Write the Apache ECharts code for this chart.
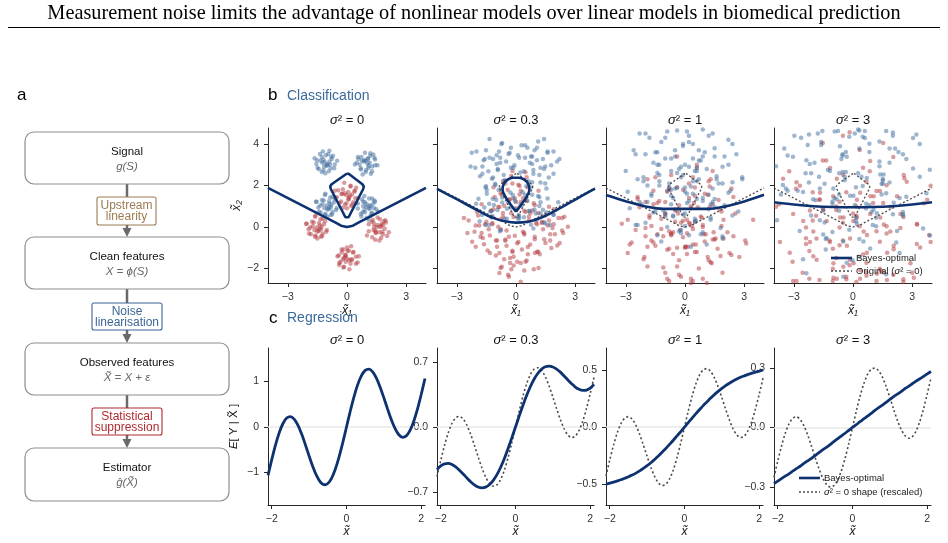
<!DOCTYPE html>
<html>
<head>
<meta charset="utf-8">
<script src="https://cdn.jsdelivr.net/npm/echarts@6/dist/echarts.min.js"></script>
<style>
html, body { margin: 0; padding: 0; background: #fff; }
#chart { width: 948px; height: 543px; }
</style>
</head>
<body>
<div id="chart"></div>
<script>
(function () {
    'use strict';

    var FONT = '"Liberation Sans", Arial, sans-serif';

    // ---- data ----
    var noiseLabels = ['0', '0.3', '1', '3'];
    var clsTicksX = [-3, 0, 3];
    var clsTicksY = [-2, 0, 2, 4];
    var regTicksX = [-2, 0, 2];
    var regTicksY = [[-1, 0, 1], [-0.7, 0, 0.7], [-0.5, 0, 0.5], [-0.3, 0, 0.3]];

    // classification samples, sigma^2 = 0
    var blue0 = [[-1.04,2.95],[-1.34,3.19],[-0.77,3.28],[-1.19,2.74],[-0.95,3.52],[-1.55,3.04],[-0.83,2.83],[-1.13,3.13],[-0.62,3.01],[-1.28,3.37],[-1.01,3.04],[-1.43,2.8],[-0.89,3.16],[-1.22,3.64],[-0.71,3.43],[-1.64,3.31],[-1.1,2.59],[-0.92,2.68],
        [0.85,3.16],[1.09,2.86],[1.18,3.43],[0.64,3.01],[1.42,3.25],[0.94,2.65],[0.73,3.37],[1.03,3.07],[0.91,3.58],[1.27,2.92],[0.94,3.19],[0.7,2.77],[1.06,3.31],[1.54,2.98],[1.33,3.49],[1.21,2.56],[0.49,3.1],[0.58,3.28],
        [-0.94,0.85],[-1.24,1.09],[-0.67,1.18],[-1.09,0.64],[-0.85,1.42],[-1.45,0.94],[-0.73,0.73],[-1.03,1.03],[-0.52,0.91],[-1.18,1.27],[-0.91,0.94],[-1.33,0.7],[-0.79,1.06],[-1.12,1.54],[-0.61,1.33],[-1.54,1.21],[-1.0,0.49],[-0.82,0.58],
        [1.15,0.89],[0.91,1.19],[1.33,1.13],[0.79,0.71],[1.27,1.37],[0.55,0.89],[1.24,0.68],[0.97,0.98],[1.48,0.86],[0.82,1.22],[1.09,0.89],[0.7,0.62],[1.21,1.01],[0.88,1.49],[1.39,1.28],[0.46,1.16],[1.0,0.44],[1.18,0.53],
        [-1.19,3.25],[-0.86,3.01],[-1.49,2.86],[-1.07,3.46],[-0.8,3.37],[-1.28,2.65],[-0.65,2.83],[-1.52,3.22],[-0.98,2.98],[-1.16,2.92],[-0.89,3.67],[-1.37,3.52],[-0.5,3.19],[-1.25,3.1],
        [1.09,2.95],[0.76,3.19],[1.39,3.34],[0.97,2.74],[0.7,2.83],[1.18,3.55],[0.55,3.37],[1.42,2.98],[0.88,3.22],[1.06,3.28],[0.79,2.53],[1.27,2.68],[0.4,3.01],[1.15,3.1],
        [-1.15,0.91],[-0.91,1.24],[-0.76,0.61],[-1.36,1.03],[-1.27,1.3],[-0.55,0.82],[-0.73,1.45],[-1.12,0.58],[-0.88,1.12],[-0.82,0.94],[-1.57,1.21],[-1.42,0.73],[-1.09,1.6],[-1.0,0.85],
        [1.15,1.04],[0.91,0.71],[0.76,1.34],[1.36,0.92],[1.27,0.65],[0.55,1.13],[0.73,0.5],[1.12,1.37],[0.88,0.83],[0.82,1.01],[1.57,0.74],[1.42,1.22],[1.09,0.35],[1.0,1.1]];
    var red0 = [[0.07,1.33],[-0.28,1.6],[0.38,1.71],[-0.1,1.08],[0.18,1.99],[-0.52,1.43],[0.32,1.19],[-0.04,1.54],[0.56,1.4],[-0.21,1.82],[0.1,1.43],[-0.38,1.15],[0.25,1.57],[-0.14,2.13],[0.46,1.89],[-0.63,1.75],[0.0,0.9],[0.21,1.01],
        [-1.44,-0.2],[-1.74,0.04],[-1.17,0.13],[-1.59,-0.41],[-1.35,0.37],[-1.95,-0.11],[-1.23,-0.32],[-1.53,-0.02],[-1.02,-0.14],[-1.68,0.22],[-1.41,-0.11],[-1.83,-0.35],[-1.29,0.01],[-1.62,0.49],[-1.11,0.28],[-2.04,0.16],[-1.5,-0.56],[-1.32,-0.47],
        [1.7,0.01],[1.46,-0.29],[1.88,0.28],[1.34,-0.14],[1.82,0.1],[1.1,-0.2],[1.79,-0.23],[1.52,0.0],[2.03,-0.44],[1.37,0.17],[1.64,-0.26],[1.25,0.25],[1.76,0.16],[1.43,-0.62],[1.94,0.32],[1.01,-0.41],[1.55,0.46],[1.73,-0.52],
        [-0.06,-1.35],[0.24,-1.59],[-0.33,-1.68],[0.09,-1.14],[-0.15,-1.92],[0.45,-1.44],[-0.27,-1.23],[0.03,-1.53],[-0.48,-1.41],[0.18,-1.77],[-0.09,-1.44],[0.33,-1.2],[-0.21,-1.56],[0.12,-2.04],[-0.39,-1.83],[0.54,-1.71],[0.0,-0.99],[-0.18,-1.08],
        [0.09,1.35],[-0.24,1.59],[0.39,1.74],[-0.03,1.14],[-0.3,1.23],[0.18,1.95],[-0.45,1.77],[0.42,1.38],[-0.12,1.62],[0.06,1.68],[-0.21,0.93],[0.27,1.08],[-0.6,1.41],[0.15,1.5],
        [-1.65,-0.14],[-1.41,0.19],[-1.26,-0.44],[-1.86,-0.02],[-1.77,0.25],[-1.05,-0.23],[-1.23,0.4],[-1.62,-0.47],[-1.38,0.07],[-1.32,-0.11],[-2.07,0.16],[-1.92,-0.32],[-1.59,0.55],[-1.5,-0.2],
        [1.7,0.04],[1.46,-0.25],[1.31,0.34],[1.91,-0.08],[1.82,-0.35],[1.1,0.13],[1.28,-0.5],[1.67,0.37],[1.43,-0.17],[1.37,0.01],[2.12,-0.26],[1.97,0.22],[1.64,-0.65],[1.55,0.1],
        [-0.09,-1.35],[0.24,-1.55],[-0.39,-1.74],[0.03,-1.14],[0.3,-1.23],[-0.18,-1.95],[0.45,-1.77],[-0.42,-1.38],[0.12,-1.62],[-0.06,-1.68],[0.21,-0.93],[-0.27,-1.08],[0.6,-1.41],[-0.15,-1.5]];

    // sigma^2 = 0.3
    var blue03 = [[-0.92,2.74],[-1.64,3.22],[-0.38,3.52],[-1.22,2.32],[-0.74,4.0],[-2.06,2.86],[-0.62,2.5],[-1.16,3.28],[-0.08,2.98],[-1.52,3.7],[-0.98,3.04],[-1.82,2.44],[-0.8,3.34],[-1.34,4.24],[-0.26,3.82],[-2.24,3.58],[-1.04,2.02],[-0.56,2.2],[-1.7,2.92],[-0.86,3.64],[-1.4,2.68],[-0.5,3.16],
        [1.36,3.28],[0.88,2.56],[0.58,3.82],[1.78,2.98],[0.1,3.46],[1.24,2.14],[1.6,3.58],[0.82,3.04],[1.12,4.12],[0.4,2.68],[1.06,3.22],[1.66,2.38],[0.76,3.4],[-0.14,2.86],[0.28,3.94],[0.52,1.96],[2.08,3.16],[1.9,3.64],[1.18,2.5],[0.46,3.34],[1.42,2.8],[0.94,3.7],
        [-1.18,1.36],[-0.46,0.88],[-1.72,0.58],[-0.88,1.78],[-1.36,0.1],[-0.04,1.24],[-1.48,1.6],[-0.94,0.82],[-2.02,1.12],[-0.58,0.4],[-1.12,1.06],[-0.28,1.66],[-1.3,0.76],[-0.76,-0.14],[-1.84,0.28],[0.14,0.52],[-1.06,2.08],[-1.54,1.9],[-0.4,1.18],[-1.24,0.46],[-0.7,1.42],[-1.6,0.94],
        [0.64,0.77],[1.12,1.49],[1.42,0.23],[0.22,1.07],[1.9,0.59],[0.76,1.91],[0.4,0.47],[1.18,1.01],[0.88,-0.07],[1.6,1.37],[0.94,0.83],[0.34,1.67],[1.24,0.65],[2.14,1.19],[1.72,0.11],[1.48,2.09],[-0.08,0.89],[0.1,0.41],[0.82,1.55],[1.54,0.71],[0.58,1.25],[1.06,0.35],
        [-0.92,2.8],[-1.58,3.28],[-0.32,3.58],[-1.16,2.38],[-1.7,2.56],[-0.7,4.05],[-2.0,3.64],[-0.26,2.86],[-1.34,3.34],[-0.98,3.46],[-1.52,1.96],[-0.56,2.26],[-2.3,2.92],[-0.8,3.1],
        [0.82,3.4],[1.48,2.92],[0.22,2.62],[1.06,3.82],[1.6,3.64],[0.64,2.2],[1.9,2.56],[0.16,3.34],[1.24,2.86],[0.88,2.74],[1.42,4.24],[0.46,3.94],[2.2,3.28],[0.7,3.1],
        [-0.7,1.18],[-1.18,0.52],[-1.48,1.78],[-0.28,0.94],[-0.46,0.4],[-1.9,1.36],[-1.54,0.1],[-0.76,1.84],[-1.24,0.76],[-1.36,1.12],[0.14,0.58],[-0.16,1.54],[-0.82,-0.2],[-1.0,1.3],
        [0.7,0.77],[1.18,1.43],[1.48,0.17],[0.28,1.01],[0.46,1.55],[1.9,0.59],[1.54,1.85],[0.76,0.11],[1.24,1.19],[1.36,0.83],[-0.14,1.37],[0.16,0.41],[0.82,2.15],[1.0,0.65]];
    var red03 = [[-0.36,1.32],[0.12,2.04],[0.42,0.78],[-0.78,1.62],[0.9,1.14],[-0.24,2.46],[-0.6,1.02],[0.18,1.56],[-0.12,0.48],[0.6,1.92],[-0.06,1.38],[-0.66,2.22],[0.24,1.2],[1.14,1.74],[0.72,0.66],[0.48,2.64],[-1.08,1.44],[-0.9,0.96],[-0.18,2.1],[0.54,1.26],[-0.42,1.8],[0.06,0.9],
        [-1.32,-0.41],[-2.04,0.07],[-0.78,0.37],[-1.62,-0.83],[-1.14,0.85],[-2.46,-0.29],[-1.02,-0.65],[-1.56,0.13],[-0.48,-0.17],[-1.92,0.55],[-1.38,-0.11],[-2.22,-0.71],[-1.2,0.19],[-1.74,1.09],[-0.66,0.67],[-2.64,0.43],[-1.44,-1.13],[-0.96,-0.95],[-2.1,-0.23],[-1.26,0.49],[-1.8,-0.47],[-0.9,0.01],
        [1.91,0.13],[1.43,-0.59],[1.13,0.67],[2.33,-0.17],[0.65,0.31],[1.79,-1.01],[2.15,0.43],[1.37,-0.11],[1.67,0.97],[0.95,-0.47],[1.61,0.07],[2.21,-0.77],[1.31,0.25],[0.41,-0.29],[0.83,0.79],[1.07,-1.19],[2.63,0.01],[2.45,0.49],[1.73,-0.65],[1.01,0.19],[1.97,-0.35],[1.49,0.55],
        [-0.18,-1.14],[0.54,-1.62],[-0.72,-1.92],[0.12,-0.72],[-0.36,-2.4],[0.96,-1.26],[-0.48,-0.9],[0.06,-1.68],[-1.02,-1.38],[0.42,-2.1],[-0.12,-1.44],[0.72,-0.84],[-0.3,-1.74],[0.24,-2.64],[-0.84,-2.22],[1.14,-1.98],[-0.06,-0.42],[-0.54,-0.6],[0.6,-1.32],[-0.24,-2.04],[0.3,-1.08],[-0.6,-1.56],
        [-0.3,1.32],[0.18,1.98],[0.48,0.72],[-0.72,1.56],[-0.54,2.1],[0.95,1.05],[0.54,2.4],[-0.24,0.66],[0.24,1.74],[0.36,1.38],[-1.14,1.92],[-0.84,0.96],[-0.18,2.7],[0,1.2],
        [-1.2,0.13],[-1.68,-0.53],[-1.98,0.73],[-0.78,-0.11],[-0.96,-0.65],[-2.4,0.31],[-2.04,-0.95],[-1.26,0.79],[-1.74,-0.29],[-1.86,0.07],[-0.36,-0.47],[-0.66,0.49],[-1.32,-1.25],[-1.5,0.25],
        [1.73,-0.35],[1.07,0.13],[2.33,0.43],[1.49,-0.77],[0.95,-0.59],[1.91,0.85],[0.65,0.49],[2.39,-0.29],[1.31,0.19],[1.67,0.31],[1.13,-1.19],[2.09,-0.89],[0.35,-0.23],[1.85,-0.05],
        [-0.18,-1.2],[0.48,-1.68],[-0.78,-1.98],[0.06,-0.78],[0.6,-0.96],[-0.4,-2.3],[0.9,-2.04],[-0.84,-1.26],[0.24,-1.74],[-0.12,-1.86],[0.42,-0.36],[-0.54,-0.66],[1.2,-1.32],[-0.3,-1.5]];

    // sigma^2 = 1
    var blue1 = [[-0.5,3.4],[-1.3,2.2],[-1.8,4.3],[0.2,2.9],[-2.6,3.7],[-0.7,1.5],[-0.1,3.9],[-1.4,3.0],[-0.9,4.6],[-2.1,2.4],[-1.0,3.3],[0.0,1.9],[-1.5,3.6],[-3.0,2.7],[-2.3,4.5],[-1.9,1.2],[0.7,3.2],[0.4,4.0],[-0.8,2.1],[-2.0,3.5],[-0.4,2.6],[-1.2,4.1],
        [0.7,3.7],[1.9,2.9],[-0.2,2.4],[1.2,4.4],[0.4,1.6],[2.6,3.5],[0.2,4.1],[1.1,2.8],[-0.7,3.3],[1.7,2.1],[0.8,3.2],[2.2,4.2],[0.5,2.7],[1.4,1.2],[-0.4,1.9],[2.9,2.3],[0.9,4.7],[0.1,4.6],[2.0,3.4],[0.6,2.2],[1.5,3.8],[0.0,3.0],
        [-1.6,0.7],[-0.8,1.9],[-0.3,-0.2],[-2.3,1.2],[0.5,0.4],[-1.4,2.6],[-2.0,0.2],[-0.7,1.1],[-1.2,-0.7],[0.0,1.7],[-1.1,0.8],[-2.1,2.2],[-0.6,0.5],[0.9,1.4],[0.2,-0.4],[-0.2,2.9],[-2.8,0.9],[-2.5,0.1],[-1.3,2.0],[-0.1,0.6],[-1.7,1.5],[-0.9,0.0],
        [1.3,0.35],[0.1,1.15],[2.2,1.65],[0.8,-0.35],[1.6,2.45],[-0.6,0.55],[1.8,-0.05],[0.9,1.25],[2.7,0.75],[0.3,1.95],[1.2,0.85],[-0.2,-0.15],[1.5,1.35],[0.6,2.85],[2.4,2.15],[-0.9,1.75],[1.1,-0.85],[1.9,-0.55],[0.0,0.65],[1.4,1.85],[0.5,0.25],[2.0,1.05],
        [-1.4,3.6],[-0.3,2.8],[-2.4,2.3],[-1.0,4.3],[-0.1,4.0],[-1.7,1.6],[0.4,2.2],[-2.5,3.5],[-0.7,2.7],[-1.3,2.5],[-0.4,4.65],[-2.0,4.5],[0.9,3.4],[-1.6,3.1],
        [1.5,3.4],[0.7,2.3],[0.2,4.4],[2.2,3.0],[1.9,2.1],[-0.5,3.7],[0.1,1.6],[1.4,4.5],[0.6,2.7],[0.4,3.3],[2.9,2.4],[2.4,4.0],[1.3,1.1],[1.0,3.6],
        [-1.5,0.75],[-0.7,1.8],[-0.2,-0.3],[-2.2,1.1],[-1.9,2.0],[0.55,0.3],[-0.1,2.5],[-1.4,-0.4],[-0.6,1.4],[-0.4,0.8],[-2.9,1.7],[-2.4,0.1],[-1.3,3.0],[-1.0,0.5],
        [1.3,0.45],[0.2,1.25],[2.3,1.75],[0.9,-0.25],[0.0,0.05],[1.6,2.3],[-0.5,1.85],[2.4,0.55],[0.6,1.35],[1.2,1.55],[0.3,-0.95],[1.9,-0.45],[-1.0,0.65],[1.5,0.95]];
    var red1 = [[0.3,0.9],[-0.9,1.7],[1.2,2.2],[-0.2,0.2],[0.6,3.0],[-1.6,1.1],[0.8,0.5],[-0.1,1.8],[1.7,1.3],[-0.7,2.5],[0.2,1.4],[-1.2,0.4],[0.5,1.9],[-0.4,3.4],[1.4,2.7],[-1.9,2.3],[0.1,-0.3],[0.9,0.0],[-1.0,1.2],[0.4,2.4],[-0.5,0.8],[1.0,1.6],
        [-1.8,0.55],[-0.6,-0.25],[-2.7,-0.75],[-1.3,1.25],[-2.1,-1.55],[0.1,0.35],[-2.3,0.95],[-1.4,-0.35],[-3.2,0.15],[-0.8,-1.05],[-1.7,0.05],[-0.3,1.05],[-2.0,-0.45],[-1.1,-1.95],[-2.9,-1.25],[0.4,-0.85],[-1.6,1.75],[-2.4,1.45],[-0.5,0.25],[-1.9,-0.95],[-1.0,0.65],[-2.5,-0.15],
        [0.95,-0.35],[1.75,0.85],[2.25,-1.25],[0.25,0.15],[3.05,-0.65],[1.15,1.55],[0.55,-0.85],[1.85,0.05],[1.35,-1.75],[2.55,0.65],[1.45,-0.25],[0.45,1.15],[1.95,-0.55],[3.45,0.35],[2.75,-1.45],[2.35,1.85],[-0.25,-0.15],[0.05,-0.95],[1.25,0.95],[2.45,-0.45],[0.85,0.45],[1.65,-1.05],
        [0.6,-1.2],[-0.2,-2.4],[-0.7,-0.3],[1.3,-1.7],[-1.5,-0.9],[0.4,-2.6],[1.0,-0.7],[-0.3,-1.6],[0.2,0.2],[-1.0,-2.2],[0.1,-1.3],[1.1,-2.7],[-0.4,-1.0],[-1.9,-1.9],[-1.2,-0.1],[-0.8,-2.6],[1.8,-1.4],[1.5,-0.6],[0.3,-2.5],[-0.9,-1.1],[0.7,-2.0],[-0.1,-0.5],
        [0.3,1.0],[-0.8,1.8],[1.3,2.3],[-0.1,0.3],[-1.0,0.6],[0.6,2.85],[-1.5,2.4],[1.4,1.1],[-0.4,1.9],[0.2,2.1],[-0.7,-0.4],[0.9,0.1],[-2.0,1.2],[0.5,1.5],
        [-1.8,0.45],[-0.7,-0.35],[-2.8,-0.85],[-1.4,1.15],[-0.5,0.85],[-2.05,-1.45],[0.0,-0.95],[-2.9,0.35],[-1.1,-0.45],[-1.7,-0.65],[-0.8,1.85],[-2.4,1.35],[0.5,0.25],[-2.0,-0.05],
        [1.05,-0.35],[1.85,0.75],[2.35,-1.35],[0.35,0.05],[0.65,0.95],[3.1,-0.8],[2.45,1.45],[1.15,-1.45],[1.95,0.35],[2.15,-0.25],[-0.35,0.65],[0.15,-0.95],[1.25,1.95],[1.55,-0.55],
        [0.5,-1.2],[-0.3,-2.3],[-0.8,-0.2],[1.2,-1.6],[0.9,-2.5],[-1.6,-0.75],[-0.9,-2.5],[0.4,-0.1],[-0.4,-1.9],[-0.6,-1.3],[1.9,-2.2],[1.4,-0.6],[0.3,-2.7],[0,-1.0]];

    // sigma^2 = 3
    var blue3 = [[-2.12,2.59],[-0.76,4.63],[0.09,1.06],[-3.31,3.44],[1.45,2.08],[-1.78,4.5],[-2.8,1.74],[-0.59,3.27],[-1.44,0.21],[0.6,4.29],[-1.27,2.76],[-2.97,4.4],[-0.42,2.25],[2.13,3.78],[0.94,0.72],[0.26,4.7],[-3.9,2.93],[-3.65,1.57],[-1.61,4.1],[0.43,2.42],[-2.29,3.95],[-0.93,1.4],
        [1.51,2.08],[-0.53,3.44],[3.04,4.29],[0.66,0.89],[2.02,4.55],[-1.72,2.42],[2.36,1.4],[0.83,3.61],[3.89,2.76],[-0.19,4.35],[1.34,2.93],[-1.04,1.23],[1.85,3.78],[0.32,4.65],[3.38,4.0],[-2.23,4.46],[1.17,0.04],[2.53,0.55],[-0.7,2.59],[1.68,4.63],[0.15,1.91],[2.7,3.27],
        [0.02,1.51],[-1.34,-0.53],[-2.19,3.04],[1.21,0.66],[-3.55,2.02],[-0.32,-1.72],[0.7,2.36],[-1.51,0.83],[-0.66,3.89],[-2.7,-0.19],[-0.83,1.34],[0.87,-1.04],[-1.68,1.85],[-3.85,0.32],[-3.04,3.38],[-2.36,-2.23],[2.06,1.17],[1.55,2.53],[-0.49,-0.7],[-2.53,1.68],[0.19,0.15],[-1.17,2.7],
        [0.49,1.97],[2.53,0.61],[-1.04,-0.24],[1.34,3.16],[-0.02,-1.6],[3.72,1.63],[-0.36,2.65],[1.17,0.44],[-1.89,1.29],[2.19,-0.75],[0.66,1.12],[3.04,2.82],[0.15,0.27],[1.68,-2.28],[-1.38,-1.09],[3.9,-0.41],[0.83,4.01],[-0.53,3.5],[2.7,1.46],[0.32,-0.58],[1.85,2.14],[-0.7,0.78],
        [-1.61,3.95],[0.26,2.59],[-3.31,1.74],[-0.93,4.6],[0.6,4.63],[-2.12,0.55],[1.45,1.57],[-3.48,3.78],[-0.42,2.42],[-1.44,2.08],[0.09,4.5],[-2.63,4.3],[2.3,3.61],[-1.95,3.1],
        [1.51,2.25],[-0.36,3.61],[3.21,4.46],[0.83,1.06],[-0.7,1.57],[2.02,4.4],[-1.55,4.63],[3.38,2.42],[0.32,3.78],[1.34,4.12],[-0.19,-0.13],[2.53,0.72],[-2.4,2.59],[1.85,3.1],
        [-0.15,1.51],[-1.51,-0.36],[-2.36,3.21],[1.04,0.83],[0.53,-0.7],[-3.4,1.85],[-2.53,-1.55],[-0.32,3.38],[-1.68,0.32],[-2.02,1.34],[2.23,-0.19],[1.38,2.53],[-0.49,-2.4],[-1.0,1.85],
        [0.15,0.44],[1.51,2.31],[2.36,-1.26],[-1.04,1.12],[-0.53,2.65],[3.55,-0.07],[2.53,3.5],[0.32,-1.43],[1.68,1.63],[2.02,0.61],[-2.23,2.14],[-1.38,-0.58],[0.49,4.35],[1.0,0.1]];
    var red3 = [[-0.51,2.52],[1.53,1.16],[-2.04,0.31],[0.34,3.71],[-1.02,-1.05],[2.72,2.18],[-1.36,3.2],[0.17,0.99],[-2.89,1.84],[1.19,-0.2],[-0.34,1.67],[2.04,3.37],[-0.85,0.82],[0.68,-1.73],[-2.38,-0.54],[3.23,0.14],[-0.17,4.56],[-1.53,4.05],[1.7,2.01],[-0.68,-0.03],[0.85,2.69],[-1.7,1.33],
        [-0.48,0.46],[-1.84,-1.58],[-2.69,1.99],[0.71,-0.39],[-3.9,0.97],[-0.82,-2.5],[0.2,1.31],[-2.01,-0.22],[-1.16,2.84],[-3.2,-1.24],[-1.33,0.29],[0.37,-2.09],[-2.18,0.8],[-3.7,-0.73],[-3.54,2.33],[-2.86,-2.6],[1.56,0.12],[1.05,1.48],[-0.99,-1.75],[-3.03,0.63],[-0.31,-0.9],[-1.67,1.65],
        [2.06,-1.07],[0.02,0.29],[3.59,1.14],[1.21,-2.26],[2.57,2.5],[-1.17,-0.73],[2.91,-1.75],[1.38,0.46],[3.85,-0.39],[0.36,1.65],[1.89,-0.22],[-0.49,-1.92],[2.4,0.63],[0.87,3.18],[3.93,1.99],[-1.68,1.31],[1.72,-2.55],[3.08,-2.45],[-0.15,-0.56],[2.23,1.48],[0.7,-1.24],[3.25,0.12],
        [-1.02,-2.01],[0.34,0.03],[1.19,-2.6],[-2.21,-1.16],[2.55,-2.52],[-0.68,1.22],[-1.7,-2.55],[0.51,-1.33],[-0.34,-2.4],[1.7,-0.31],[-0.17,-1.84],[-1.87,0.54],[0.68,-2.35],[3.23,-0.82],[2.04,-2.3],[1.36,1.73],[-3.06,-1.67],[-2.55,-2.2],[-0.51,0.2],[1.53,-2.18],[-1.19,-0.65],[0.17,-2.65],
        [-0.85,0.99],[0.51,2.86],[1.36,-0.71],[-2.04,1.67],[-1.53,3.2],[2.55,0.48],[1.53,4.05],[-0.68,-0.88],[0.68,2.18],[1.02,1.16],[-3.23,2.69],[-2.38,-0.03],[-0.51,4.4],[0,0.65],
        [-0.65,0.46],[-2.01,-1.41],[-2.86,2.16],[0.54,-0.22],[0.03,-1.75],[-3.75,1.1],[-3.03,-2.6],[-0.82,2.33],[-2.18,-0.73],[-2.52,0.29],[1.73,-1.24],[0.88,1.48],[-0.99,-2.45],[-1.5,0.8],
        [2.06,-0.9],[0.19,0.46],[3.76,1.31],[1.38,-2.09],[-0.15,-1.58],[2.6,2.35],[-1.0,1.48],[3.93,-0.73],[0.87,0.63],[1.89,0.97],[0.36,-2.5],[3.0,-2.2],[-1.85,-0.56],[2.4,-0.05],
        [-0.51,-0.65],[1.36,-2.01],[-2.21,-2.5],[0.17,0.54],[1.7,0.03],[-1.02,-2.6],[2.55,-2.65],[-2.38,-0.82],[0.68,-2.18],[-0.34,-2.52],[1.19,1.73],[-1.53,0.88],[3.4,-0.99],[-0.85,-1.5]];

    // decision boundaries
    var origV = [[-4,1.88],[-0.6,0.22],[-0.3,0.06],[0,0.0],[0.3,0.06],[0.6,0.22],[4,1.88]];
    var origKite = [[0,2.58],[-0.1,2.55],[-0.78,2.06],[-0.85,1.95],[-0.82,1.83],[-0.08,0.47],[0,0.42],[0.08,0.47],[0.82,1.83],[0.85,1.95],[0.78,2.06],[0.1,2.55],[0,2.58]];
    var bayes03Curve = [[-4,1.84],[-3,1.34],[-2,0.83],[-1.2,0.45],[-0.5,0.26],[0,0.21],[0.6,0.25],[1.4,0.5],[2.3,0.94],[3.2,1.43],[4,1.85]];
    var bayes03Loop = [[0,0.74],[-0.3,1.12],[-0.55,1.48],[-0.68,1.8],[-0.62,2.08],[-0.42,2.28],[-0.15,2.37],[0.15,2.37],[0.42,2.28],[0.62,2.08],[0.68,1.8],[0.55,1.48],[0.3,1.12],[0,0.74]];
    var bayes1Curve = [[-4,1.54],[-3,1.24],[-2,0.99],[-1.1,0.87],[0,0.87],[1.1,0.87],[2,0.98],[3,1.23],[4,1.55]];
    var bayes3Curve = [[-4,1.19],[-3,1.08],[-2,1.0],[-1,0.96],[0,0.95],[1,0.96],[2,1.0],[3,1.08],[4,1.19]];

    // regression curves
    var regX = [-2.1,-2.0,-1.9,-1.8,-1.7,-1.6,-1.5,-1.4,-1.3,-1.2,-1.1,-1.0,-0.9,-0.8,-0.7,-0.6,-0.5,-0.4,-0.3,-0.2,-0.1,0,
        0.1,0.2,0.3,0.4,0.5,0.6,0.7,0.8,0.9,1.0,1.1,1.2,1.3,1.4,1.5,1.6,1.7,1.8,1.9,2.0,2.1];
    var regBayes0 = [-1.067,-0.721,-0.399,-0.127,0.076,0.196,0.228,0.172,0.038,-0.157,-0.392,-0.641,-0.877,-1.075,-1.213,-1.274,-1.247,-1.132,-0.933,-0.665,-0.346,0,
        0.346,0.665,0.933,1.132,1.247,1.274,1.213,1.075,0.877,0.641,0.392,0.157,-0.038,-0.172,-0.228,-0.196,-0.076,0.127,0.399,0.721,1.067];
    var regBayes03 = [-0.459,-0.419,-0.397,-0.393,-0.405,-0.430,-0.466,-0.506,-0.549,-0.590,-0.623,-0.646,-0.655,-0.648,-0.622,-0.578,-0.516,-0.436,-0.341,-0.234,-0.119,0,
        0.119,0.234,0.341,0.436,0.516,0.578,0.622,0.648,0.655,0.646,0.623,0.590,0.549,0.506,0.466,0.430,0.405,0.393,0.397,0.419,0.459];
    var regShape03 = [-0.534,-0.361,-0.200,-0.064,0.038,0.098,0.114,0.086,0.019,-0.079,-0.196,-0.321,-0.439,-0.538,-0.607,-0.637,-0.624,-0.566,-0.467,-0.333,-0.173,0,
        0.173,0.333,0.467,0.566,0.624,0.637,0.607,0.538,0.439,0.321,0.196,0.079,-0.019,-0.086,-0.114,-0.098,-0.038,0.064,0.200,0.361,0.534];
    var regBayes1 = [-0.498,-0.489,-0.480,-0.470,-0.460,-0.447,-0.434,-0.419,-0.402,-0.382,-0.361,-0.337,-0.311,-0.283,-0.253,-0.220,-0.187,-0.151,-0.115,-0.077,-0.039,0,
        0.039,0.077,0.115,0.151,0.187,0.220,0.253,0.283,0.311,0.337,0.361,0.382,0.402,0.419,0.434,0.447,0.460,0.470,0.480,0.489,0.498];
    var regShape1 = [-0.427,-0.288,-0.160,-0.051,0.030,0.078,0.091,0.069,0.015,-0.063,-0.157,-0.256,-0.351,-0.430,-0.485,-0.510,-0.499,-0.453,-0.373,-0.266,-0.138,0,
        0.138,0.266,0.373,0.453,0.499,0.510,0.485,0.430,0.351,0.256,0.157,0.063,-0.015,-0.069,-0.091,-0.078,-0.030,0.051,0.160,0.288,0.427];
    var regBayes3 = [-0.282,-0.270,-0.257,-0.245,-0.233,-0.220,-0.207,-0.195,-0.181,-0.168,-0.155,-0.141,-0.127,-0.113,-0.100,-0.086,-0.071,-0.057,-0.043,-0.029,-0.014,0,
        0.014,0.029,0.043,0.057,0.071,0.086,0.100,0.113,0.127,0.141,0.155,0.168,0.181,0.195,0.207,0.220,0.233,0.245,0.257,0.270,0.282];
    var regShape3 = [-0.251,-0.169,-0.094,-0.030,0.018,0.046,0.054,0.040,0.009,-0.037,-0.092,-0.151,-0.206,-0.253,-0.285,-0.299,-0.293,-0.266,-0.219,-0.156,-0.081,0,
        0.081,0.156,0.219,0.266,0.293,0.299,0.285,0.253,0.206,0.151,0.092,0.037,-0.009,-0.040,-0.054,-0.046,-0.018,0.030,0.094,0.169,0.251];

    // ---- layout ----
    var panelLefts = [268, 437, 606, 774];
    var clsTop = 128, clsH = 155, clsW = 158;
    var regTop = 348, regH = 157, regW = 157;
    var clsYRange = [-2.7, 4.77];
    var regYRange = [[-1.72, 1.74], [-0.84, 0.85], [-0.68, 0.69], [-0.39, 0.40]];

    var NAVY = '#0e3270';
    var BLUE_PT = '#3f6d9e';
    var RED_PT = '#b43a40';
    var GREY_DOT = '#4a4a4a';
    var AXIS = '#262626';

    function minus(s) { return String(s).replace('-', '\u2212'); }

    function zip(xs, ys) {
        return xs.map(function (x, i) { return [x, ys[i]]; });
    }

    var grids = [], xAxes = [], yAxes = [], series = [];

    function baseAxis(gi, min, max, ticks, showLabels, fmt) {
        return {
            gridIndex: gi, type: 'value', min: min, max: max,
            axisLine: { show: true, onZero: false, lineStyle: { color: AXIS, width: 1 } },
            axisTick: { show: true, length: 4, customValues: ticks, lineStyle: { color: AXIS, width: 1 } },
            axisLabel: { show: showLabels, customValues: ticks, margin: 9, fontSize: 10.5, color: '#333', fontFamily: FONT, formatter: fmt },
            splitLine: { show: false }
        };
    }

    // classification panels
    var clsBlue = [blue0, blue03, blue1, blue3];
    var clsRed = [red0, red03, red1, red3];
    for (var i = 0; i < 4; i++) {
        grids.push({ left: panelLefts[i], top: clsTop, width: clsW, height: clsH });
        var xa = baseAxis(i, -4, 4, clsTicksX, true, function (v) { return minus(v); });
        xa.name = 'x\u0303\u2081';
        xa.nameLocation = 'middle';
        xa.nameGap = 22;
        xa.nameTextStyle = { fontSize: 12, fontFamily: FONT, fontStyle: 'italic', color: '#111' };
        xAxes.push(xa);
        var ya = baseAxis(i, clsYRange[0], clsYRange[1], clsTicksY, i === 0, function (v) { return minus(v); });
        if (i === 0) {
            ya.name = 'x\u0303\u2082';
            ya.nameLocation = 'middle';
            ya.nameGap = 8;
            ya.nameRotate = 90;
            ya.nameTextStyle = { fontSize: 12, fontFamily: FONT, fontStyle: 'italic', color: '#111' };
        }
        yAxes.push(ya);

        series.push({
            type: 'scatter', xAxisIndex: i, yAxisIndex: i, data: clsRed[i], symbolSize: 4.5,
            itemStyle: { color: RED_PT, opacity: 0.5 }, silent: true, z: 2
        });
        series.push({
            type: 'scatter', xAxisIndex: i, yAxisIndex: i, data: clsBlue[i], symbolSize: 4.5,
            itemStyle: { color: BLUE_PT, opacity: 0.5 }, silent: true, z: 2
        });
    }

    function boundary(gi, data, solid, smooth) {
        return {
            type: 'line', xAxisIndex: gi, yAxisIndex: gi, data: data,
            showSymbol: false, symbol: 'none', smooth: smooth || false, silent: true,
            lineStyle: solid ? { color: NAVY, width: 2.6 } : { color: GREY_DOT, width: 1.3, type: [2, 2] },
            z: solid ? 4 : 3
        };
    }

    series.push(boundary(0, origV, true));
    series.push(boundary(0, origKite, true));
    for (var j = 1; j < 4; j++) {
        series.push(boundary(j, origV, false));
        series.push(boundary(j, origKite, false));
    }
    series.push(boundary(1, bayes03Curve, true, 0.4));
    series.push(boundary(1, bayes03Loop, true, 0.35));
    series.push(boundary(2, bayes1Curve, true, 0.4));
    series.push(boundary(3, bayes3Curve, true, 0.4));

    // regression panels
    var regBayes = [regBayes0, regBayes03, regBayes1, regBayes3];
    var regShape = [null, regShape03, regShape1, regShape3];
    for (var k = 0; k < 4; k++) {
        var gi = 4 + k;
        grids.push({ left: panelLefts[k], top: regTop, width: regW, height: regH });
        var rx = baseAxis(gi, -2.1, 2.1, regTicksX, true, function (v) { return minus(v); });
        rx.name = 'x\u0303';
        rx.nameLocation = 'middle';
        rx.nameGap = 19;
        rx.nameTextStyle = { fontSize: 12, fontFamily: FONT, fontStyle: 'italic', color: '#111' };
        xAxes.push(rx);
        var fmtY = k === 0
            ? function (v) { return minus(Math.round(v)); }
            : function (v) { return minus(v.toFixed(1)); };
        var ry = baseAxis(gi, regYRange[k][0], regYRange[k][1], regTicksY[k], true, fmtY);
        if (k === 0) {
            ry.name = '{i|E}[ Y | X\u0303 ]';
            ry.nameLocation = 'middle';
            ry.nameGap = 28;
            ry.nameRotate = 90;
            ry.nameTextStyle = { fontSize: 11.5, fontFamily: FONT, color: '#111',
                rich: { i: { fontStyle: 'italic', fontSize: 11.5, fontFamily: FONT, color: '#111' } } };
        }
        yAxes.push(ry);

        series.push({
            type: 'line', xAxisIndex: gi, yAxisIndex: gi, data: [], silent: true,
            markLine: {
                silent: true, symbol: 'none', z: 1, label: { show: false },
                lineStyle: { color: '#e9e9e9', width: 1.5, type: 'solid' },
                data: [{ yAxis: 0 }]
            }
        });
        if (regShape[k]) {
            series.push({
                type: 'line', xAxisIndex: gi, yAxisIndex: gi, data: zip(regX, regShape[k]),
                symbol: 'none', showSymbol: false, smooth: 0.3, silent: true, z: 3,
                lineStyle: { color: GREY_DOT, width: 1.6, type: [2, 2.5] }
            });
        }
        series.push({
            type: 'line', xAxisIndex: gi, yAxisIndex: gi, data: zip(regX, regBayes[k]),
            symbol: 'none', showSymbol: false, smooth: 0.3, silent: true, z: 4,
            lineStyle: { color: NAVY, width: 2.8 }
        });
    }

    // ---- graphic: title, rule, panel labels, flowchart, legends ----
    var graphic = [];
    function text(x, y, str, opts) {
        var st = {
            text: str, fill: opts.fill || '#111',
            fontSize: opts.size || 12, fontFamily: opts.family || FONT,
            fontStyle: opts.italic ? 'italic' : 'normal',
            align: opts.align || 'center', verticalAlign: 'middle'
        };
        if (opts.lh) st.lineHeight = opts.lh;
        if (opts.rich) st.rich = opts.rich;
        graphic.push({ type: 'text', x: x, y: y, silent: true, style: st, z: 10 });
    }

    text(474, 14, 'Measurement noise limits the advantage of nonlinear models over linear models in biomedical prediction',
        { size: 20.3, family: '"Liberation Serif", "Times New Roman", serif', fill: '#000' });
    graphic.push({ type: 'line', shape: { x1: 8, y1: 27.5, x2: 940, y2: 27.5 }, style: { stroke: '#000', lineWidth: 1 }, silent: true });

    text(17, 95, 'a', { size: 17, align: 'left', fill: '#000' });
    text(268, 95, 'b', { size: 17, align: 'left', fill: '#000' });
    text(287, 96, 'Classification', { size: 14, align: 'left', fill: '#3b6a9c' });
    text(269, 318, 'c', { size: 17, align: 'left', fill: '#000' });
    text(287, 318, 'Regression', { size: 14, align: 'left', fill: '#3b6a9c' });

    function sigmaRich(size) {
        return { i: { fontStyle: 'italic', fontSize: size, fontFamily: FONT, fill: '#111' } };
    }
    for (var t = 0; t < 4; t++) {
        var cx = panelLefts[t] + 79;
        text(cx, 120, '{i|σ}² = ' + noiseLabels[t], { size: 13, rich: sigmaRich(13) });
        text(cx, 340, '{i|σ}² = ' + noiseLabels[t], { size: 13, rich: sigmaRich(13) });
    }

    // legends
    function legendRow(x, y, solid, label) {
        graphic.push({
            type: 'line', silent: true, z: 10,
            shape: { x1: x, y1: y, x2: x + 21, y2: y },
            style: solid ? { stroke: NAVY, lineWidth: 2.6 } : { stroke: GREY_DOT, lineWidth: 1.4, lineDash: [2, 2] }
        });
        text(x + 25, y, label, { size: 9.5, align: 'left', fill: '#222', rich: sigmaRich(9.5) });
    }
    legendRow(831, 258, true, 'Bayes-optimal');
    legendRow(831, 271, false, 'Original ({i|σ}² = 0)');
    legendRow(799, 478, true, 'Bayes-optimal');
    legendRow(799, 492, false, '{i|σ}² = 0 shape (rescaled)');

    // flowchart
    var boxes = [
        { y: 132, h: 52, main: 'Signal', sub: 'g(S)' },
        { y: 237, h: 52, main: 'Clean features', sub: 'X = ϕ(S)' },
        { y: 343, h: 52, main: 'Observed features', sub: 'X\u0303 = X + ε' },
        { y: 448, h: 53, main: 'Estimator', sub: 'g\u0302(X\u0303)' }
    ];
    var tags = [
        { x: 97, y: 197, w: 59, h: 28, label: 'Upstream\nlinearity', color: '#9c7b52' },
        { x: 92, y: 303, w: 70, h: 27, label: 'Noise\nlinearisation', color: '#3b6596' },
        { x: 92, y: 408, w: 70, h: 27, label: 'Statistical\nsuppression', color: '#b02a30' }
    ];
    boxes.forEach(function (b, idx) {
        graphic.push({
            type: 'rect', silent: true, z: 5,
            shape: { x: 25, y: b.y, width: 204, height: b.h, r: 9 },
            style: { fill: '#fff', stroke: '#8d8d8d', lineWidth: 1.2 }
        });
        text(127, b.y + 20, b.main, { size: 11.5, fill: '#111' });
        text(127, b.y + 35, b.sub, { size: 11.5, fill: '#666', italic: true });
        if (idx < boxes.length - 1) {
            var y0 = b.y + b.h, y1 = boxes[idx + 1].y;
            graphic.push({ type: 'line', silent: true, z: 4, shape: { x1: 127, y1: y0, x2: 127, y2: y1 - 8 }, style: { stroke: '#6a6a6a', lineWidth: 2.5 } });
            graphic.push({ type: 'polygon', silent: true, z: 4, shape: { points: [[122.5, y1 - 9], [131.5, y1 - 9], [127, y1]] }, style: { fill: '#6a6a6a' } });
        }
    });
    tags.forEach(function (tg) {
        graphic.push({
            type: 'rect', silent: true, z: 6,
            shape: { x: tg.x, y: tg.y, width: tg.w, height: tg.h, r: 2 },
            style: { fill: '#fff', stroke: tg.color, lineWidth: 1.1 }
        });
        text(tg.x + tg.w / 2, tg.y + tg.h / 2 + 0.5, tg.label, { size: 12, fill: tg.color, lh: 11 });
    });

    var option = {
        animation: false,
        backgroundColor: '#fff',
        textStyle: { fontFamily: FONT },
        grid: grids,
        xAxis: xAxes,
        yAxis: yAxes,
        series: series,
        graphic: graphic
    };

    var chart = echarts.init(document.getElementById('chart'), null, { renderer: 'canvas' });
    chart.setOption(option);
})();
</script>
</body>
</html>
